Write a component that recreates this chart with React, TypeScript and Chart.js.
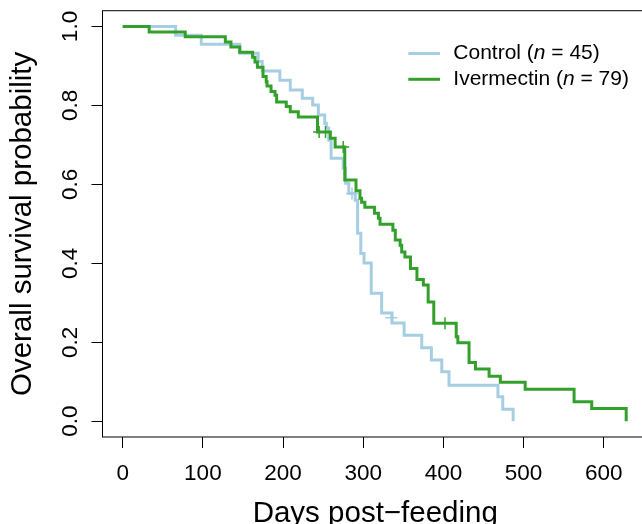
import React, { useEffect, useRef } from "react";
import { Chart, registerables } from "chart.js";

Chart.register(...registerables);

const groupNames = ["Control", "Ivermectin"];
const groupN = [45, 79];
const groupColors = ["#a6cee3", "#33a02c"];

const xTicks = [0, 100, 200, 300, 400, 500, 600];
const yTicks = [0, 0.2, 0.4, 0.6, 0.8, 1.0];

const controlDays = [0, 66, 98, 146, 169, 174, 196, 209, 224, 237, 244, 252, 254, 257, 260, 275, 278, 282, 290, 293, 297, 301, 310, 323, 336, 351, 373, 385, 398, 407, 468, 474, 487];
const controlSurv = [1.0, 0.978, 0.955, 0.932, 0.911, 0.887, 0.864, 0.839, 0.818, 0.801, 0.776, 0.755, 0.743, 0.712, 0.666, 0.641, 0.603, 0.577, 0.56, 0.476, 0.425, 0.401, 0.324, 0.274, 0.249, 0.218, 0.186, 0.155, 0.125, 0.091, 0.062, 0.03, 0.0];
const controlCensorDays = [286, 335];
const controlCensorSurv = [0.577, 0.262];

const ivermectinDays = [0, 33, 78, 128, 135, 146, 162, 165, 168, 175, 179, 180, 185, 190, 192, 204, 209, 219, 243, 259, 265, 277, 291, 296, 298, 302, 314, 319, 321, 337, 340, 346, 348, 352, 359, 367, 375, 381, 388, 416, 418, 432, 440, 457, 471, 502, 563, 585, 628];
const ivermectinSurv = [1.0, 0.986, 0.974, 0.961, 0.948, 0.935, 0.922, 0.91, 0.897, 0.873, 0.86, 0.849, 0.835, 0.826, 0.809, 0.797, 0.784, 0.771, 0.733, 0.717, 0.695, 0.611, 0.584, 0.565, 0.555, 0.542, 0.527, 0.514, 0.499, 0.484, 0.459, 0.446, 0.429, 0.416, 0.387, 0.359, 0.345, 0.302, 0.248, 0.214, 0.199, 0.149, 0.132, 0.114, 0.099, 0.081, 0.049, 0.032, 0.0];
const ivermectinCensorDays = [245, 253, 275, 402];
const ivermectinCensorSurv = [0.733, 0.733, 0.695, 0.248];

const FONT = "'Liberation Sans', Arial, Helvetica, sans-serif";

const toPts = (xs: number[], ys: number[]) => xs.map((x, i) => ({ x, y: ys[i] }));

const boxPlugin = {
  id: "rbox",
  afterDraw(chart: any) {
    const { ctx, chartArea } = chart;
    const ys = chart.scales.y;
    ctx.save();
    ctx.strokeStyle = "#000";
    ctx.lineWidth = 1;
    ctx.strokeRect(chartArea.left, chartArea.top, chartArea.right - chartArea.left, chartArea.bottom - chartArea.top);
    // y tick labels (rotated, as in R)
    ctx.fillStyle = "#000";
    ctx.font = `22.5px ${FONT}`;
    ctx.textAlign = "center";
    ctx.textBaseline = "alphabetic";
    yTicks.forEach((v) => {
      const py = ys.getPixelForValue(v);
      ctx.save();
      ctx.translate(77.3, py);
      ctx.rotate(-Math.PI / 2);
      ctx.fillText(v.toFixed(1), 0, 0);
      ctx.restore();
    });
    // legend
    const lx0 = 408.3, lx1 = 440, tx = 453.3;
    const rows = [53.5, 79.3];
    groupNames.forEach((name, i) => {
      const ly = rows[i];
      ctx.strokeStyle = groupColors[i];
      ctx.lineWidth = 3;
      ctx.beginPath();
      ctx.moveTo(lx0, ly);
      ctx.lineTo(lx1, ly);
      ctx.stroke();
      ctx.fillStyle = "#000";
      ctx.textAlign = "left";
      ctx.textBaseline = "middle";
      let x = tx;
      const p1 = `${name} (`;
      ctx.font = `21px ${FONT}`;
      ctx.fillText(p1, x, ly);
      x += ctx.measureText(p1).width;
      ctx.font = `italic 21px ${FONT}`;
      ctx.fillText("n", x, ly);
      x += ctx.measureText("n").width;
      ctx.font = `21px ${FONT}`;
      ctx.fillText(` = ${groupN[i]})`, x, ly);
    });
    ctx.restore();
  },
};

export default function App() {
  const ref = useRef<HTMLCanvasElement | null>(null);
  useEffect(() => {
    if (!ref.current) return;
    const chart = new Chart(ref.current, {
      type: "line",
      data: {
        datasets: [
          {
            label: groupNames[1],
            data: toPts(ivermectinDays, ivermectinSurv),
            borderColor: groupColors[1],
            borderWidth: 3,
            pointRadius: 0,
            stepped: "before",
            fill: false,
            order: 0,
          },
          {
            label: groupNames[1] + " censored",
            data: toPts(ivermectinCensorDays, ivermectinCensorSurv),
            showLine: false,
            pointStyle: "cross",
            pointRadius: 6,
            pointBorderWidth: 1.5,
            pointBorderColor: groupColors[1],
            borderColor: groupColors[1],
            order: 0,
          },
          {
            label: groupNames[0],
            data: toPts(controlDays, controlSurv),
            borderColor: groupColors[0],
            borderWidth: 3,
            pointRadius: 0,
            stepped: "before",
            fill: false,
            order: 1,
          },
          {
            label: groupNames[0] + " censored",
            data: toPts(controlCensorDays, controlCensorSurv),
            showLine: false,
            pointStyle: "cross",
            pointRadius: 6,
            pointBorderWidth: 1.5,
            pointBorderColor: groupColors[0],
            borderColor: groupColors[0],
            order: 1,
          },
        ],
      },
      options: {
        animation: false,
        responsive: false,
        maintainAspectRatio: false,
        layout: { padding: { top: 10.7, right: 12, left: 0, bottom: 0 } },
        plugins: { legend: { display: false }, tooltip: { enabled: false } },
        scales: {
          x: {
            type: "linear",
            min: -25.2,
            max: 655.2,
            afterBuildTicks: (s: any) => {
              s.ticks = xTicks.map((v) => ({ value: v }));
            },
            afterFit: (s: any) => {
              s.height = 103;
            },
            grid: { drawOnChartArea: false, drawTicks: true, tickLength: 11, color: "#000", lineWidth: 1 },
            border: { display: false },
            ticks: {
              padding: 12,
              color: "#000",
              maxRotation: 0,
              autoSkip: false,
              font: { family: FONT, size: 22.5, lineHeight: 1.2 },
              callback: (v: any) => String(v),
            },
            title: {
              display: true,
              text: "Days post\u2212feeding",
              color: "#000",
              font: { family: FONT, size: 29.5, lineHeight: 1.2 },
              padding: { top: 0, bottom: 8.7 },
            },
          },
          y: {
            type: "linear",
            min: -0.04,
            max: 1.04,
            afterBuildTicks: (s: any) => {
              s.ticks = yTicks.map((v) => ({ value: v }));
            },
            afterFit: (s: any) => {
              s.width = 102.5;
            },
            grid: { drawOnChartArea: false, drawTicks: true, tickLength: 11, color: "#000", lineWidth: 1 },
            border: { display: false },
            ticks: { display: false },
            title: {
              display: true,
              text: "Overall survival probability",
              color: "#000",
              font: { family: FONT, size: 29.5, lineHeight: 1.2 },
              padding: { top: 5.1, bottom: 0 },
            },
          },
        },
      },
      plugins: [boxPlugin],
    } as any);
    return () => chart.destroy();
  }, []);
  return (
    <div style={{ position: "fixed", left: 0, top: 0, width: 642, height: 524, overflow: "hidden", background: "#fff" }}>
      <canvas ref={ref} width={660} height={540} style={{ display: "block", width: 660, height: 540 }} />
    </div>
  );
}
